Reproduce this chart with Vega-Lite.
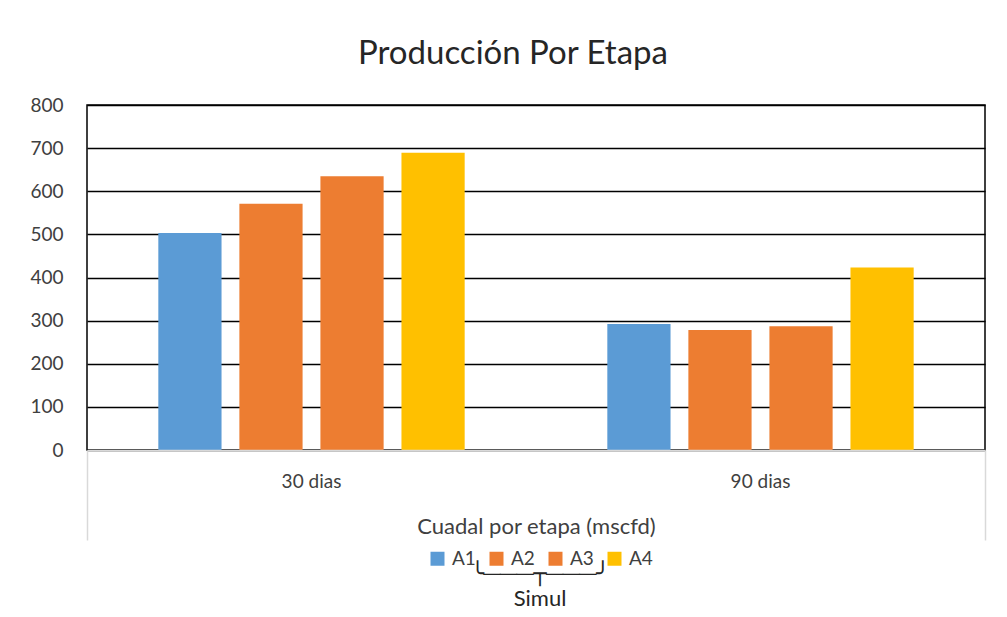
{
  "$schema": "https://vega.github.io/schema/vega-lite/v6.json",
  "width": 898,
  "height": 345,
  "autosize": {"type": "none"},
  "padding": {"left": 87, "top": 105, "right": 22, "bottom": 167},
  "background": "white",
  "config": {"view": {"stroke": "black", "strokeWidth": 1.5}},
  "title": {"text": "Producción Por Etapa", "font": "Lato", "fontSize": 33, "fontWeight": "normal", "color": "#262626", "anchor": "middle", "dx": -23, "offset": -1, "baseline": "alphabetic"},
  "data": {"values": [
    {"etapa": "30 dias", "serie": "A1", "valor": 503},
    {"etapa": "30 dias", "serie": "A2", "valor": 571},
    {"etapa": "30 dias", "serie": "A3", "valor": 635},
    {"etapa": "30 dias", "serie": "A4", "valor": 689},
    {"etapa": "90 dias", "serie": "A1", "valor": 292},
    {"etapa": "90 dias", "serie": "A2", "valor": 278},
    {"etapa": "90 dias", "serie": "A3", "valor": 287},
    {"etapa": "90 dias", "serie": "A4", "valor": 423}
  ]},
  "layer": [
    {
      "mark": {"type": "bar"},
      "encoding": {
        "x": {"field": "etapa", "type": "nominal", "scale": {"paddingInner": 0, "paddingOuter": 0},
          "axis": {"title": "Cuadal por etapa (mscfd)", "labelAngle": 0, "domainColor": "#d9d9d9", "domainWidth": 1.5, "ticks": false, "labelPadding": 22, "labelFont": "Lato", "labelFontSize": 19, "labelColor": "#404040", "titleFont": "Lato", "titleFontSize": 22, "titleFontWeight": "normal", "titleColor": "#404040", "titlePadding": 25, "zindex": 1}},
        "xOffset": {"field": "serie", "type": "nominal", "scale": {"paddingInner": 0.22, "paddingOuter": 0.88}},
        "y": {"field": "valor", "type": "quantitative", "scale": {"domain": [0, 800], "nice": false},
          "axis": {"title": null, "values": [0, 100, 200, 300, 400, 500, 600, 700, 800], "grid": true, "gridColor": "black", "gridWidth": 1.5, "domain": false, "ticks": false, "labelPadding": 24, "labelFont": "Lato", "labelFontSize": 19, "labelColor": "#404040", "zindex": 0}},
        "color": {"field": "serie", "type": "nominal",
          "scale": {"domain": ["A1", "A2", "A3", "A4"], "range": ["#5B9BD5", "#ED7D31", "#ED7D31", "#FFC000"]},
          "legend": {"orient": "none", "legendX": 341, "legendY": 444, "direction": "horizontal", "title": ["╰───┬───╯", "Simul"], "titleOrient": "bottom", "titleAnchor": "middle", "titleFont": "Lato, DejaVu Sans", "titleFontSize": 22, "titleFontWeight": "normal", "titleColor": "#262626", "titleLineHeight": 25, "titlePadding": -5, "labelFont": "Lato", "labelFontSize": 19, "labelColor": "#404040", "symbolType": "square", "symbolSize": 196, "symbolStrokeWidth": 0, "symbolOpacity": 1, "columnPadding": 11, "labelOffset": 5}}
      }
    },
    {
      "mark": {"type": "rule", "opacity": 0},
      "encoding": {
        "x": {"datum": 0, "type": "quantitative", "scale": {"domain": [0, 1], "nice": false, "zero": false},
          "axis": {"orient": "bottom", "values": [0, 1], "labels": false, "domain": false, "ticks": true, "tickSize": 90, "tickColor": "#d9d9d9", "tickWidth": 1.5, "title": null, "grid": false}}
      }
    }
  ],
  "resolve": {"scale": {"x": "independent"}, "axis": {"x": "independent"}}
}
